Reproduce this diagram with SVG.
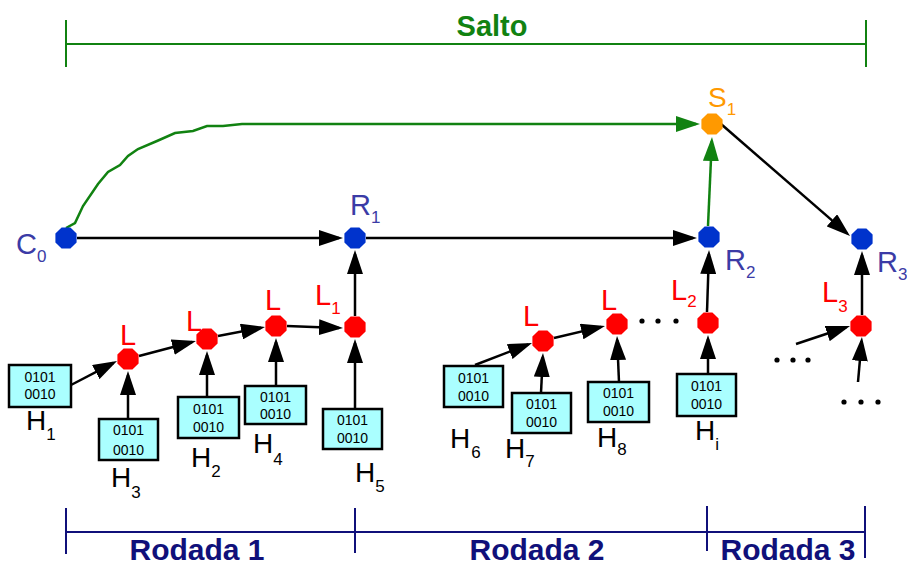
<svg xmlns="http://www.w3.org/2000/svg" xmlns:xlink="http://www.w3.org/1999/xlink" width="907" height="567" viewBox="0 0 907 567">
<style>
.bg{fill:#ffffff}
.edge{stroke:#000;stroke-width:2.5;fill:none}
.gedge{stroke:#118211;stroke-width:2.5;fill:none}
.box{fill:#aaffff;stroke:#000;stroke-width:2.5}
.bits{font-family:"Liberation Sans",Arial,sans-serif;font-size:14px;fill:#000;text-anchor:middle}
.hl{font-family:"Liberation Sans",Arial,sans-serif;font-size:28px;fill:#000}
.rl{font-family:"Liberation Sans",Arial,sans-serif;font-size:29px;fill:#3b3ba6}
.ll{font-family:"Liberation Sans",Arial,sans-serif;font-size:29px;fill:#ff0000}
.sl{font-family:"Liberation Sans",Arial,sans-serif;font-size:28px;fill:#ff9900}
.sub{font-size:17px}
.blue{fill:#0033cc}
.red{fill:#ff0000}
.orange{fill:#ff9900}
.brk{stroke:#10107a;stroke-width:2;fill:none}
.gbrk{stroke:#118211;stroke-width:2;fill:none}
.rod{font-family:"Liberation Sans",Arial,sans-serif;font-size:30px;font-weight:bold;fill:#10107a;text-anchor:middle}
.salto{font-family:"Liberation Sans",Arial,sans-serif;font-size:29px;font-weight:bold;fill:#118211;text-anchor:middle}
.dot{fill:#000}
</style>
<defs>
<marker id="ah" markerUnits="userSpaceOnUse" markerWidth="24" markerHeight="16" refX="20" refY="8" orient="auto">
<path d="M0,0 L24,8 L0,16 z" fill="#000"/>
</marker>
<marker id="gah" markerUnits="userSpaceOnUse" markerWidth="24" markerHeight="16" refX="20" refY="8" orient="auto">
<path d="M0,0 L24,8 L0,16 z" fill="#118211"/>
</marker>
<path id="oct" d="M10.6,4.4 L4.4,10.6 L-4.4,10.6 L-10.6,4.4 L-10.6,-4.4 L-4.4,-10.6 L4.4,-10.6 L10.6,-4.4 z"/>
</defs>
<rect class="bg" x="0" y="0" width="907" height="567"/>

<g id="salto-bracket">
<path class="gbrk" d="M66,20 V67 M66,44 H866 M866,20 V67"/>
<text class="salto" x="492" y="36">Salto</text>
</g>

<g id="rodada-brackets">
<path class="brk" d="M66,508 V554 M355,508 V553 M707,506 V551 M865,506 V558 M66,532 H865"/>
<text class="rod" x="197" y="560">Rodada 1</text>
<text class="rod" x="537" y="560">Rodada 2</text>
<text class="rod" x="788" y="560">Rodada 3</text>
</g>

<g id="connectors">
<polyline class="gedge" marker-end="url(#gah)" points="66,228 75,223 83,206 98,184 108,172 120,165 128,156 138,149 157,141 175,133 193,131 207,126 223,126 242,124 696,124"/>
<line class="gedge" marker-end="url(#gah)" x1="708" y1="226" x2="711.8" y2="141"/>
<line class="edge" marker-end="url(#ah)" x1="77" y1="238" x2="339" y2="238"/>
<line class="edge" marker-end="url(#ah)" x1="366" y1="238" x2="693" y2="238"/>
<line class="edge" marker-end="url(#ah)" x1="721" y1="124" x2="847" y2="233.4"/>
<line class="edge" marker-end="url(#ah)" x1="355" y1="316" x2="355" y2="254"/>
<line class="edge" marker-end="url(#ah)" x1="355" y1="409" x2="355" y2="343"/>
<line class="edge" marker-end="url(#ah)" x1="276" y1="386" x2="276" y2="342"/>
<line class="edge" marker-end="url(#ah)" x1="207" y1="397" x2="207" y2="355"/>
<line class="edge" marker-end="url(#ah)" x1="128" y1="419" x2="128" y2="375"/>
<line class="edge" marker-end="url(#ah)" x1="71" y1="385" x2="113.5" y2="362.8"/>
<line class="edge" marker-end="url(#ah)" x1="139" y1="356" x2="192.1" y2="342"/>
<line class="edge" marker-end="url(#ah)" x1="218" y1="336" x2="261.1" y2="327.8"/>
<line class="edge" marker-end="url(#ah)" x1="287" y1="326" x2="339" y2="327.9"/>
<line class="edge" marker-end="url(#ah)" x1="475" y1="365" x2="528.3" y2="344.4"/>
<line class="edge" marker-end="url(#ah)" x1="541" y1="393" x2="542.8" y2="357"/>
<line class="edge" marker-end="url(#ah)" x1="554" y1="338" x2="601.1" y2="326.9"/>
<line class="edge" marker-end="url(#ah)" x1="619" y1="382" x2="617.2" y2="340"/>
<line class="edge" marker-end="url(#ah)" x1="708" y1="374" x2="708" y2="339"/>
<line class="edge" marker-end="url(#ah)" x1="707" y1="312" x2="708.9" y2="254"/>
<line class="edge" marker-end="url(#ah)" x1="796" y1="344" x2="846.2" y2="327.3"/>
<line class="edge" marker-end="url(#ah)" x1="858" y1="382" x2="861.6" y2="341"/>
<line class="edge" marker-end="url(#ah)" x1="862" y1="315" x2="862" y2="255"/>
</g>

<g id="ellipses">
<circle class="dot" cx="642" cy="321" r="2.6"/><circle class="dot" cx="658" cy="321" r="2.6"/><circle class="dot" cx="676" cy="321" r="2.6"/>
<circle class="dot" cx="777" cy="360" r="2.6"/><circle class="dot" cx="793" cy="360" r="2.6"/><circle class="dot" cx="808" cy="360" r="2.6"/>
<circle class="dot" cx="844" cy="402" r="2.6"/><circle class="dot" cx="861" cy="402" r="2.6"/><circle class="dot" cx="878" cy="402" r="2.6"/>
</g>

<g id="C0"><use xlink:href="#oct" x="66" y="238" class="blue"/><text class="rl" x="16" y="254">C<tspan class="sub" dy="8">0</tspan></text></g>
<g id="R1"><use xlink:href="#oct" x="355" y="238" class="blue"/><text class="rl" x="350" y="215">R<tspan class="sub" dy="8">1</tspan></text></g>
<g id="R2"><use xlink:href="#oct" x="709" y="237" class="blue"/><text class="rl" x="725" y="270">R<tspan class="sub" dy="8">2</tspan></text></g>
<g id="R3"><use xlink:href="#oct" x="862" y="239" class="blue"/><text class="rl" x="877" y="272">R<tspan class="sub" dy="8">3</tspan></text></g>
<g id="S1"><use xlink:href="#oct" x="712" y="124" class="orange"/><text class="sl" x="708" y="107">S<tspan class="sub" dy="8">1</tspan></text></g>

<g id="La"><use xlink:href="#oct" x="128" y="359" class="red"/><text class="ll" x="120" y="345">L</text></g>
<g id="Lb"><use xlink:href="#oct" x="207" y="339" class="red"/><text class="ll" x="186" y="331">L</text></g>
<g id="Lc"><use xlink:href="#oct" x="276" y="326" class="red"/><text class="ll" x="265" y="310">L</text></g>
<g id="L1"><use xlink:href="#oct" x="355" y="327" class="red"/><text class="ll" x="315" y="305">L<tspan class="sub" dy="9">1</tspan></text></g>
<g id="Ld"><use xlink:href="#oct" x="543" y="341" class="red"/><text class="ll" x="523" y="326">L</text></g>
<g id="Le"><use xlink:href="#oct" x="617" y="324" class="red"/><text class="ll" x="601" y="310">L</text></g>
<g id="L2"><use xlink:href="#oct" x="708" y="323" class="red"/><text class="ll" x="671" y="300">L<tspan class="sub" dy="7">2</tspan></text></g>
<g id="L3"><use xlink:href="#oct" x="861" y="326" class="red"/><text class="ll" x="822" y="302">L<tspan class="sub" dy="10">3</tspan></text></g>

<g id="H1"><rect class="box" x="9" y="365" width="62" height="42"/><text class="bits" x="40" y="382">0101</text><text class="bits" x="40" y="399">0010</text><text class="hl" x="26" y="430">H<tspan class="sub" dy="10">1</tspan></text></g>
<g id="H3"><rect class="box" x="99" y="419" width="59" height="41"/><text class="bits" x="128.5" y="435">0101</text><text class="bits" x="128.5" y="455">0010</text><text class="hl" x="111" y="487">H<tspan class="sub" dy="11">3</tspan></text></g>
<g id="H2"><rect class="box" x="178" y="397" width="61" height="41"/><text class="bits" x="208.5" y="414">0101</text><text class="bits" x="208.5" y="432">0010</text><text class="hl" x="191" y="467">H<tspan class="sub" dy="10">2</tspan></text></g>
<g id="H4"><rect class="box" x="245" y="386" width="61" height="38"/><text class="bits" x="275.5" y="402">0101</text><text class="bits" x="275.5" y="419">0010</text><text class="hl" x="253" y="453">H<tspan class="sub" dy="12">4</tspan></text></g>
<g id="H5"><rect class="box" x="323" y="409" width="59" height="40"/><text class="bits" x="352.5" y="425">0101</text><text class="bits" x="352.5" y="443">0010</text><text class="hl" x="355" y="482">H<tspan class="sub" dy="10">5</tspan></text></g>
<g id="H6"><rect class="box" x="444" y="366" width="59" height="41"/><text class="bits" x="473.5" y="383">0101</text><text class="bits" x="473.5" y="401">0010</text><text class="hl" x="450" y="448">H<tspan class="sub" dx="1" dy="10">6</tspan></text></g>
<g id="H7"><rect class="box" x="512" y="393" width="59" height="40"/><text class="bits" x="541.5" y="409">0101</text><text class="bits" x="541.5" y="427">0010</text><text class="hl" x="505" y="458">H<tspan class="sub" dy="9">7</tspan></text></g>
<g id="H8"><rect class="box" x="588" y="382" width="61" height="40"/><text class="bits" x="618.5" y="398">0101</text><text class="bits" x="618.5" y="416">0010</text><text class="hl" x="597" y="447">H<tspan class="sub" dy="8">8</tspan></text></g>
<g id="Hi"><rect class="box" x="677" y="374" width="59" height="42"/><text class="bits" x="706.5" y="391">0101</text><text class="bits" x="706.5" y="409">0010</text><text class="hl" x="695" y="440">H<tspan class="sub" dy="10">i</tspan></text></g>
</svg>
